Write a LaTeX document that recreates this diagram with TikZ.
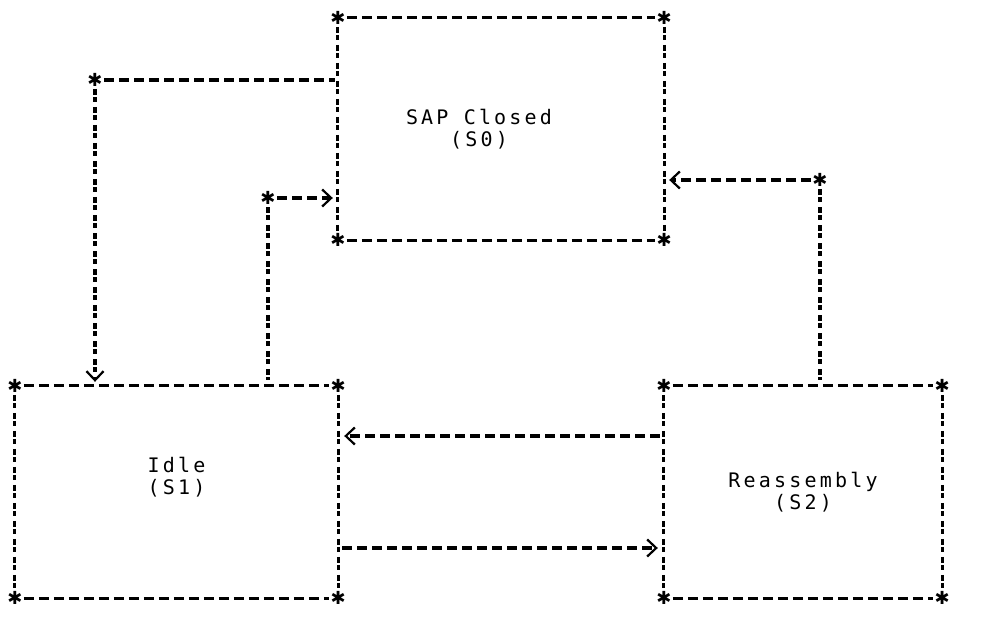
\documentclass[tikz,border=0pt]{standalone}
\usepackage{fontspec}
\setmonofont{DejaVu Sans Mono}[LetterSpace=16]
\newfontfamily\starfont{DejaVu Sans}
\usetikzlibrary{arrows.meta}

\tikzset{
  statebox/.style 2 args={minimum width=#1, minimum height=#2, inner sep=0pt},
  statename/.style={font=\ttfamily\fontsize{20}{22}\selectfont, align=center, inner sep=0pt},
  hline/.style={line width=3.2pt, dash pattern=on 10pt off 5pt, shorten <=9pt, shorten >=9pt},
  vline/.style={line width=3.2pt, dash pattern=on 6pt off 2pt on 5pt off 5pt, shorten <=9pt, shorten >=9pt},
  corner/.style={font=\starfont\fontsize{18}{18}\selectfont, inner sep=0pt},
  tip/.style={-{Straight Barb[length=9pt, width=17pt, line width=2.2pt]}}
}

\newcommand\stateedges[1]{
  \draw[hline] (#1.north west) -- (#1.north east);
  \draw[hline] (#1.south west) -- (#1.south east);
  \draw[vline] (#1.north west) -- (#1.south west);
  \draw[vline] (#1.north east) -- (#1.south east);
  \foreach \c/\n in {north west/nw, north east/ne, south west/sw, south east/se}
    \node[corner] (#1-\n) at (#1.\c) {✱};
}

\begin{document}
\begin{tikzpicture}[x=1pt,y=-1pt]
    \useasboundingbox (0,0) rectangle (995,631);
    \node[statebox={326pt}{222pt}] (s0) at (501,129) {};
    \node[statebox={323pt}{212pt}] (s1) at (176.5,492) {};
    \node[statebox={278pt}{212pt}] (s2) at (803,492) {};
    \stateedges{s0}
    \stateedges{s1}
    \stateedges{s2}
    \node[statename] (s0name) at ([xshift=-22pt]s0.center) {SAP Closed\\(S0)};
    \node[statename] (s1name) at ([yshift=15pt]s1.center) {Idle\\(S1)};
    \node[statename] (s2name) at (s2.center) {Reassembly\\(S2)};

    % S0 -> S1
    \coordinate (a1) at (95,80);
    \draw[hline, shorten >=3pt] (a1) -- (a1 -| s0.west);
    \draw[vline, tip, shorten >=4pt] (a1) -- (a1 |- s1.north);
    \node[corner] (a1star) at (a1) {✱};

    % S1 -> S0
    \coordinate (b1) at (268,198);
    \draw[hline, tip, shorten >=5pt] (b1) -- (b1 -| s0.west);
    \draw[vline, shorten >=6pt] (b1) -- (b1 |- s1.north);
    \node[corner] (b1star) at (b1) {✱};

    % S2 -> S0
    \coordinate (c1) at (820,180);
    \draw[hline, tip, shorten >=5pt] (c1) -- (c1 -| s0.east);
    \draw[vline, shorten >=6pt] (c1) -- (c1 |- s2.north);
    \node[corner] (c1star) at (c1) {✱};

    % S1 <-> S2
    \draw[hline, tip, shorten <=4pt, shorten >=6pt] ([yshift=56pt]s2.west) -- ([yshift=56pt]s1.east);
    \draw[hline, tip, shorten <=4pt, shorten >=6pt] ([yshift=-56pt]s1.east) -- ([yshift=-56pt]s2.west);
\end{tikzpicture}
\end{document}
